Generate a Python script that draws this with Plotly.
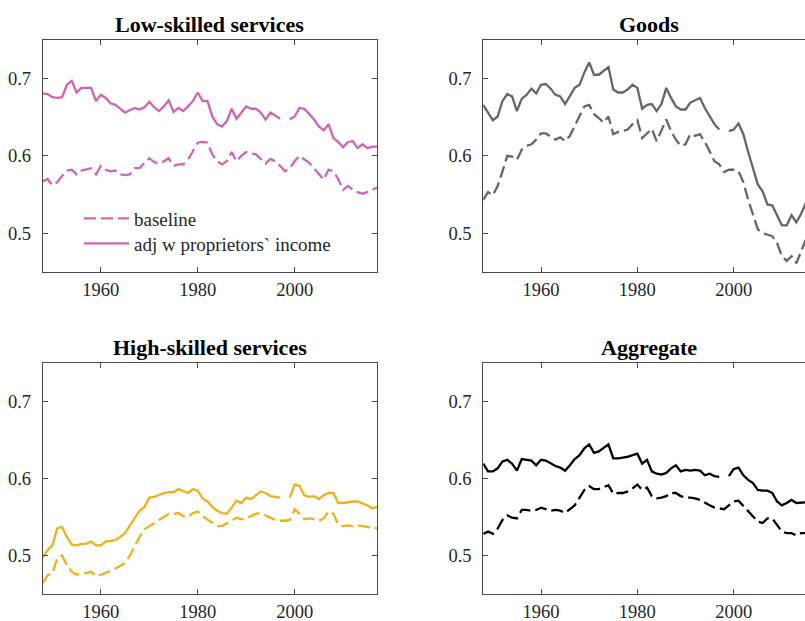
import plotly.graph_objects as go

years = list(range(1948, 2018))

# Low-skilled services
low_base = [0.567, 0.570, 0.562, 0.566, 0.574, 0.581, 0.582, 0.576, 0.581, 0.583,
            0.584, 0.576, 0.587, 0.582, 0.580, 0.581, 0.576, 0.575, 0.576, 0.584,
            0.584, 0.591, 0.597, 0.592, 0.590, 0.593, 0.597, 0.587, 0.589, 0.589,
            0.595, 0.606, 0.617, 0.618, 0.617, 0.602, 0.593, 0.589, 0.593, 0.605,
            0.593, 0.600, 0.605, 0.603, 0.602, 0.596, 0.590, 0.596, 0.593, 0.587,
            0.580, 0.584, 0.593, 0.600, 0.596, 0.591, 0.584, 0.576, 0.569, 0.582,
            0.580, 0.570, 0.556, 0.561, 0.556, 0.553, 0.551, 0.553, 0.556, 0.559]
low_adj = [0.681, 0.680, 0.676, 0.675, 0.676, 0.692, 0.697, 0.682, 0.688, 0.688,
           0.688, 0.671, 0.679, 0.675, 0.668, 0.666, 0.661, 0.656, 0.659, 0.662,
           0.660, 0.663, 0.670, 0.663, 0.658, 0.664, 0.672, 0.657, 0.662, 0.658,
           0.664, 0.671, 0.682, 0.671, 0.671, 0.651, 0.641, 0.638, 0.645, 0.661,
           0.648, 0.656, 0.664, 0.661, 0.661, 0.656, 0.647, 0.656, 0.652, 0.648,
           None, 0.647, 0.651, 0.662, 0.661, 0.654, 0.647, 0.638, 0.633, 0.641,
           0.623, 0.618, 0.611, 0.618, 0.619, 0.610, 0.615, 0.610, 0.612, 0.612]

# Goods
goods_base = [0.543, 0.553, 0.549, 0.561, 0.580, 0.600, 0.599, 0.595, 0.608, 0.613,
              0.615, 0.621, 0.629, 0.629, 0.625, 0.621, 0.624, 0.619, 0.626, 0.638,
              0.651, 0.664, 0.666, 0.654, 0.649, 0.643, 0.651, 0.628, 0.631, 0.633,
              0.634, 0.641, 0.646, 0.623, 0.629, 0.635, 0.619, 0.632, 0.647, 0.632,
              0.621, 0.613, 0.615, 0.628, 0.626, 0.628, 0.618, 0.606, 0.593, 0.589,
              0.579, 0.582, 0.582, 0.580, 0.566, 0.543, 0.524, 0.505, 0.500, 0.498,
              0.496, 0.487, 0.470, 0.464, 0.470, 0.461, 0.477, 0.492, 0.500, 0.510]
goods_adj = [0.666, 0.656, 0.646, 0.651, 0.671, 0.680, 0.677, 0.658, 0.674, 0.679,
             0.687, 0.681, 0.692, 0.693, 0.687, 0.679, 0.677, 0.667, 0.678, 0.688,
             0.692, 0.708, 0.721, 0.705, 0.705, 0.710, 0.715, 0.686, 0.682, 0.682,
             0.686, 0.692, 0.688, 0.661, 0.666, 0.667, 0.658, 0.667, 0.688, 0.675,
             0.664, 0.660, 0.660, 0.669, 0.672, 0.675, 0.662, 0.651, 0.641, 0.634,
             None, 0.632, 0.634, 0.642, 0.628, 0.605, 0.584, 0.563, 0.554, 0.537,
             0.536, 0.522, 0.510, 0.510, 0.523, 0.514, 0.525, 0.539, 0.548, 0.555]

# High-skilled services
high_base = [0.464, 0.474, 0.477, 0.496, 0.500, 0.487, 0.479, 0.475, 0.477, 0.477,
             0.479, 0.473, 0.475, 0.477, 0.480, 0.483, 0.486, 0.490, 0.500, 0.513,
             0.524, 0.534, 0.538, 0.541, 0.546, 0.550, 0.554, 0.554, 0.555, 0.551,
             0.550, 0.555, 0.557, 0.551, 0.547, 0.542, 0.538, 0.538, 0.542, 0.546,
             0.549, 0.547, 0.548, 0.551, 0.554, 0.555, 0.552, 0.548, 0.546, 0.545,
             0.545, 0.546, 0.560, 0.554, 0.547, 0.548, 0.547, 0.545, 0.548, 0.557,
             0.554, 0.540, 0.538, 0.539, 0.538, 0.539, 0.538, 0.537, 0.536, 0.535]
high_adj = [0.497, 0.507, 0.513, 0.535, 0.537, 0.524, 0.514, 0.513, 0.515, 0.515,
            0.518, 0.513, 0.513, 0.518, 0.519, 0.520, 0.524, 0.529, 0.539, 0.548,
            0.558, 0.563, 0.575, 0.576, 0.579, 0.581, 0.582, 0.582, 0.586, 0.584,
            0.581, 0.586, 0.584, 0.574, 0.570, 0.563, 0.558, 0.555, 0.554, 0.562,
            0.571, 0.568, 0.575, 0.573, 0.578, 0.583, 0.581, 0.577, 0.576, 0.575,
            None, 0.575, 0.592, 0.590, 0.578, 0.576, 0.577, 0.573, 0.578, 0.581,
            0.581, 0.568, 0.568, 0.569, 0.570, 0.570, 0.568, 0.565, 0.561, 0.563]

# Aggregate
agg_base = [0.528, 0.531, 0.528, 0.535, 0.546, 0.552, 0.549, 0.548, 0.559, 0.559,
            0.558, 0.559, 0.562, 0.560, 0.558, 0.559, 0.558, 0.555, 0.560, 0.565,
            0.575, 0.585, 0.590, 0.586, 0.586, 0.588, 0.591, 0.580, 0.581, 0.581,
            0.583, 0.587, 0.592, 0.585, 0.588, 0.577, 0.574, 0.575, 0.577, 0.581,
            0.581, 0.577, 0.575, 0.575, 0.574, 0.572, 0.568, 0.565, 0.562, 0.561,
            0.560, 0.565, 0.570, 0.571, 0.564, 0.557, 0.550, 0.544, 0.542, 0.548,
            0.548, 0.539, 0.531, 0.529, 0.529, 0.526, 0.529, 0.529, 0.530, 0.530]
agg_adj = [0.619, 0.609, 0.609, 0.613, 0.622, 0.624, 0.619, 0.610, 0.625, 0.624,
           0.623, 0.617, 0.624, 0.623, 0.619, 0.616, 0.614, 0.610, 0.617, 0.625,
           0.630, 0.639, 0.644, 0.633, 0.635, 0.640, 0.644, 0.626, 0.626, 0.627,
           0.628, 0.630, 0.632, 0.619, 0.624, 0.609, 0.606, 0.605, 0.607, 0.613,
           0.617, 0.609, 0.611, 0.610, 0.611, 0.610, 0.604, 0.606, 0.603, 0.602,
           None, 0.603, 0.612, 0.614, 0.604, 0.598, 0.594, 0.585, 0.584, 0.584,
           0.581, 0.570, 0.565, 0.568, 0.572, 0.568, 0.569, 0.569, 0.569, 0.570]

panel_titles = ["Low-skilled services", "Goods", "High-skilled services", "Aggregate"]
panel_colors = ["#CC66B3", "#666666", "#EDB120", "#000000"]
panel_series = [(low_base, low_adj), (goods_base, goods_adj),
                (high_base, high_adj), (agg_base, agg_adj)]
legend_names = ["baseline", "adj w proprietors` income"]

x_ticks = [1960, 1980, 2000]
y_ticks = [0.5, 0.6, 0.7]

W, H = 805, 621
FONT = "Liberation Serif"
INK = "#262626"
AXIS = "#4a4a4a"
DASH = "12px,5px"

# panel frames in pixels: (left, right, top, bottom); right column runs past the page edge
left_col = (42.7, 377.0)
right_col = (483.2, 805.0)
top_row = (40.0, 271.7)
bot_row = (362.7, 594.0)
frames = [(left_col, top_row), (right_col, top_row),
          (left_col, bot_row), (right_col, bot_row)]
# visible end of the right column's year axis (its full span would reach 2017)
right_year_end = 1948 + (805.0 - 483.2) / 4.8175

fig = go.Figure()
layout = {}
for i, ((series_b, series_a), color, title, (cols, rows)) in enumerate(
        zip(panel_series, panel_colors, panel_titles, frames)):
    n = i + 1
    xa = "x" if n == 1 else f"x{n}"
    ya = "y" if n == 1 else f"y{n}"
    show = n == 1
    # each legend row sits in its own legend box so the row spacing can be set
    fig.add_trace(go.Scatter(x=years, y=series_b, xaxis=xa, yaxis=ya, mode="lines",
                             name=legend_names[0], showlegend=show, connectgaps=False,
                             legend="legend",
                             line=dict(color=color, width=2.3, dash=DASH)))
    fig.add_trace(go.Scatter(x=years, y=series_a, xaxis=xa, yaxis=ya, mode="lines",
                             name=legend_names[1], showlegend=show, connectgaps=False,
                             legend="legend2",
                             line=dict(color=color, width=2.3)))
    is_right = cols is right_col
    xdom = [cols[0] / W, cols[1] / W]
    ydom = [1 - rows[1] / H, 1 - rows[0] / H]
    common = dict(showgrid=False, zeroline=False, showline=True, linecolor=AXIS,
                  linewidth=1, ticks="inside", ticklen=5, tickwidth=1,
                  tickcolor=AXIS, automargin=False,
                  tickfont=dict(family=FONT, size=18.5, color=INK))
    layout["xaxis" if n == 1 else f"xaxis{n}"] = dict(
        common, domain=xdom, anchor=ya, tickvals=x_ticks,
        range=[1948, right_year_end if is_right else 2017],
        mirror="ticks", ticklabelstandoff=1)
    layout["yaxis" if n == 1 else f"yaxis{n}"] = dict(
        common, domain=ydom, anchor=xa, tickvals=y_ticks,
        ticktext=[f"{v:.1f}" for v in y_ticks], range=[0.45, 0.75],
        mirror=False if is_right else "ticks", ticklabelstandoff=7)
    full_right = cols[0] + 69 * 4.8175 if is_right else cols[1]
    fig.add_annotation(text=f"<b>{title}</b>", xref="paper", yref="paper",
                       x=(cols[0] + full_right) / 2 / W, y=1 - (rows[0] - 15.5) / H,
                       xanchor="center", yanchor="middle", showarrow=False,
                       font=dict(family=FONT, size=22, color="#000000"))

legend_style = dict(xanchor="left", yanchor="middle", bgcolor="rgba(0,0,0,0)",
                    borderwidth=0, font=dict(family=FONT, size=19, color=INK),
                    itemwidth=45, tracegroupgap=0)
fig.update_layout(
    **layout,
    width=W, height=H,
    margin=dict(l=0, r=0, t=0, b=0, autoexpand=False),
    paper_bgcolor="white", plot_bgcolor="white",
    showlegend=True,
    legend=dict(legend_style, x=79 / W, y=1 - 218.5 / H),
    legend2=dict(legend_style, x=79 / W, y=1 - 243.5 / H),
)

fig.write_html("out.html")
